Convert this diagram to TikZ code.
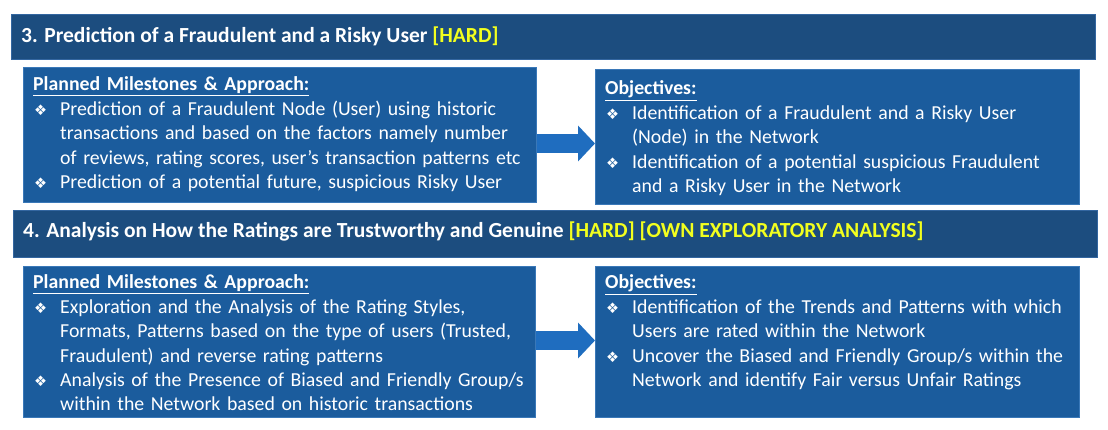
\documentclass[tikz,border=0pt]{standalone}
\usepackage{fontspec}
\setmainfont{Carlito}
\newfontfamily\symfont{DejaVu Sans}
\usepackage{tikz}
\usetikzlibrary{positioning}
\usetikzlibrary{arrows.meta}

\definecolor{barblue}{HTML}{1C4D7F}
\definecolor{barline}{HTML}{3366A0}
\definecolor{boxblue}{HTML}{1B5C9D}
\definecolor{boxline}{HTML}{3A78B8}
\definecolor{arrowblue}{HTML}{1F6DBF}
\definecolor{hardyellow}{HTML}{F2FF1E}

\newcommand{\bul}{{\symfont\fontsize{14.5}{14.5}\selectfont ❖}}
\newcommand{\bitem}[1]{\par\noindent\hangindent=27pt\hangafter=1\makebox[27pt][l]{\hspace{1pt}\bul}#1\par}
\newcommand{\boxhead}[1]{\textbf{\underline{#1}}}

\tikzset{
  titlebar/.style={draw=barline, line width=0.8pt, fill=barblue, anchor=north west, inner sep=0pt},
  bluebox/.style={draw=boxline, line width=0.8pt, fill=boxblue, anchor=north west, inner sep=0pt},
  titletext/.style={anchor=base west, inner sep=0pt, text=white, font=\fontsize{21.5}{25}\selectfont\bfseries},
  boxtext/.style={anchor=base west, inner sep=0pt, text=white, text width=#1,
    font=\fontsize{19.8}{24.4}\selectfont},
  bigarrow/.style={draw=arrowblue, line width=19pt, -{Triangle[width=35pt, length=17pt]}}
}

\begin{document}
\begin{tikzpicture}[x=1pt, y=-1pt]
            \useasboundingbox (0,0) rectangle (1108,430);

            % Section 3
            \node[titlebar, minimum width=1084, minimum height=45] (bar3) at (11,14) {};
            \node[titletext] (title3) at (21,43) {3. Prediction of a Fraudulent and a Risky User \textcolor{hardyellow}{[HARD]}};

            \node[bluebox, minimum width=513, minimum height=135] (pm3) at (23,67) {};
            \node[boxtext=500] (pm3txt) at (33,91) {\raggedright\parindent=0pt
              \boxhead{Planned Milestones \& Approach:}
              \bitem{Prediction of a Fraudulent Node (User) using historic\newline transactions and based on the factors namely number\newline of reviews, rating scores, user’s transaction patterns etc}
              \bitem{Prediction of a potential future, suspicious Risky User}};

            \node[bluebox, minimum width=484, minimum height=135] (obj3) at (595,69) {};
            \node[boxtext=470] (obj3txt) at (605,95) {\raggedright\parindent=0pt
              \boxhead{Objectives:}
              \bitem{Identification of a Fraudulent and a Risky User\newline (Node) in the Network}
              \bitem{Identification of a potential suspicious Fraudulent\newline and a Risky User in the Network}};

            % Arrow
            \coordinate (mid3) at (0,143.5);
            \draw[bigarrow] (pm3.east |- mid3) -- (obj3.west |- mid3);

            % Section 4
            \node[titlebar, minimum width=1084, minimum height=47] (bar4) at (13,210) {};
            \node[titletext] (title4) at (23,238) {4. Analysis on How the Ratings are Trustworthy and Genuine \textcolor{hardyellow}{[HARD] [OWN EXPLORATORY ANALYSIS]}};

            \node[bluebox, minimum width=512, minimum height=151] (pm4) at (23,266) {};
            \node[boxtext=500] (pm4txt) at (33,289) {\raggedright\parindent=0pt
              \boxhead{Planned Milestones \& Approach:}
              \bitem{Exploration and the Analysis of the Rating Styles,\newline Formats, Patterns based on the type of users (Trusted,\newline Fraudulent) and reverse rating patterns}
              \bitem{Analysis of the Presence of Biased and Friendly Group/s\newline within the Network based on historic transactions}};

            \node[bluebox, minimum width=484, minimum height=151] (obj4) at (595,266) {};
            \node[boxtext=470] (obj4txt) at (605,289) {\raggedright\parindent=0pt
              \boxhead{Objectives:}
              \bitem{Identification of the Trends and Patterns with which\newline Users are rated within the Network}
              \bitem{Uncover the Biased and Friendly Group/s within the\newline Network and identify Fair versus Unfair Ratings}};

            % Arrow
            \coordinate (mid4) at (0,340.5);
            \draw[bigarrow] (pm4.east |- mid4) -- (obj4.west |- mid4);

        \end{tikzpicture}
\end{document}
